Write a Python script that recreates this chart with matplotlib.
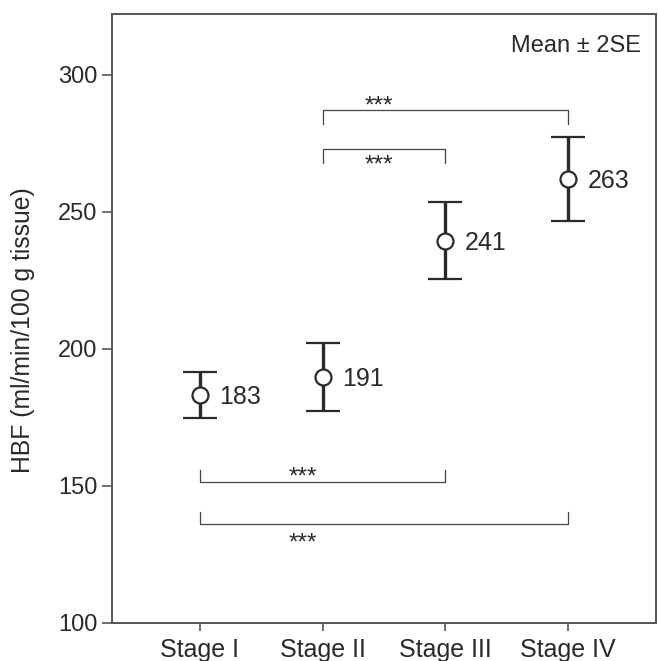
import numpy as np
import matplotlib.pyplot as plt

plt.rcParams['font.family'] = ['Liberation Sans', 'DejaVu Sans']

# Data
stages = ['Stage I', 'Stage II', 'Stage III', 'Stage IV']
means = [183.2, 189.8, 239.5, 262.0]
lower = [174.8, 177.4, 225.5, 246.7]
upper = [191.6, 202.2, 253.6, 277.4]
mean_labels = ['183', '191', '241', '263']

# significance brackets: (from, to, bar y, tip y, star x, star y)
brackets = [
    (1, 3, 287.2, 282.0, 1.46, 290.0),
    (1, 2, 273.0, 268.0, 1.46, 268.5),
    (0, 2, 151.5, 156.0, 0.84, 154.8),
    (0, 3, 136.0, 140.5, 0.84, 130.5),
]
star_text = '***'

ink = '#2a2a2a'
x = np.arange(len(stages))
means = np.array(means)
yerr = [means - np.array(lower), np.array(upper) - means]

fig = plt.figure(figsize=(6.58, 6.61), dpi=100)
ax = fig.add_axes([0.170, 0.0575, 0.827, 0.9215])

ax.errorbar(x, means, yerr=yerr, fmt='o', color=ink, ecolor=ink,
            elinewidth=2.4, capsize=12, capthick=2.4,
            markersize=11.5, markerfacecolor='white',
            markeredgecolor=ink, markeredgewidth=1.6, zorder=3)

for xi, m, lab in zip(x, means, mean_labels):
    ax.annotate(lab, xy=(xi, m), xytext=(14, -6.5), textcoords='offset points',
                ha='left', va='baseline', fontsize=18, color=ink)

for a, b, ybar, ytip, sx, sy in brackets:
    ax.plot([a, a, b, b], [ytip, ybar, ybar, ytip], color='#444444', lw=0.9)
    ax.annotate(star_text, xy=(sx, sy), xytext=(0, -7.35), textcoords='offset points',
                ha='center', va='baseline', fontsize=17.5, color=ink)

ax.text(0.973, 0.965, 'Mean \u00b1 2SE', transform=ax.transAxes,
        ha='right', va='top', fontsize=17, color=ink)

ax.set_xlim(-0.715, 3.715)
ax.set_ylim(100, 322.3)
ax.set_xticks(x)
ax.set_xticklabels(stages)
ax.set_yticks([100, 150, 200, 250, 300])
ax.set_ylabel('HBF (ml/min/100 g tissue)', fontsize=17.8, color=ink)
ax.yaxis.set_label_coords(-0.141, 0.481)

ax.tick_params(axis='y', direction='out', length=7, width=1.2,
               color='#555555', labelcolor=ink, labelsize=17)
ax.tick_params(axis='x', direction='out', length=6, width=1.2,
               color='#555555', labelcolor=ink, labelsize=18, pad=5)
for sp in ax.spines.values():
    sp.set_color('#555555')
    sp.set_linewidth(1.4)

fig.savefig('out.png', dpi=100)
